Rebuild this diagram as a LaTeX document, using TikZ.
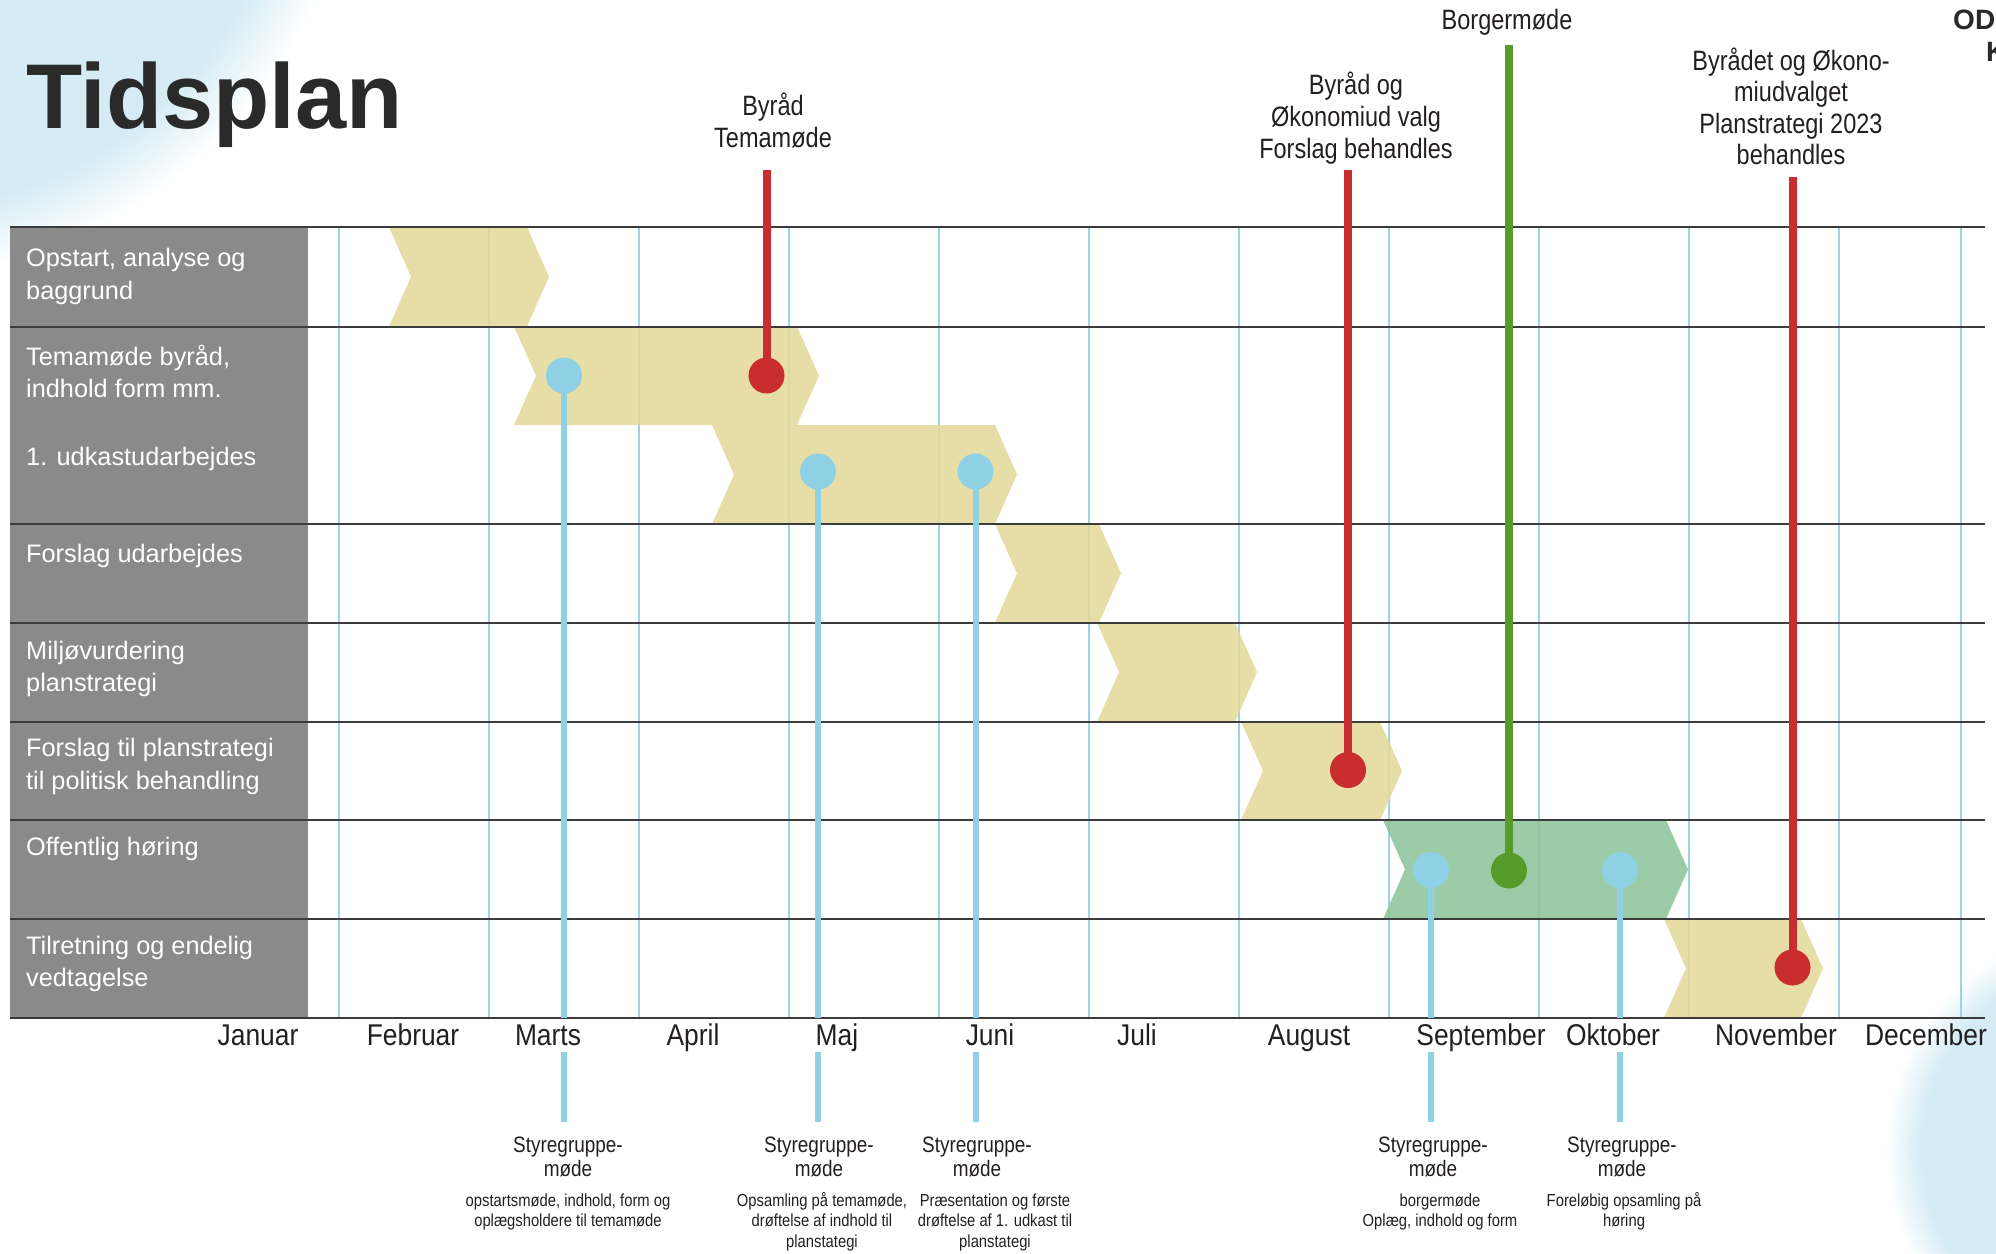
\documentclass[tikz,border=0pt]{standalone}
\usepackage{fontspec}
\setmainfont{Liberation Sans}
\newfontfamily\narrowA[FakeStretch=0.84]{Liberation Sans}
\newfontfamily\narrowB[FakeStretch=0.88]{Liberation Sans}
\newfontfamily\narrowC[FakeStretch=0.85]{Liberation Sans}
\definecolor{blobc}{HTML}{D6ECF5}
\definecolor{labgray}{HTML}{8A8A8A}
\definecolor{gridc}{HTML}{9DD3E4}
\definecolor{barY}{HTML}{E3D99A}
\definecolor{barG}{HTML}{8DC59B}
\definecolor{linec}{HTML}{3C3C3C}
\definecolor{dotB}{HTML}{8FD1E4}
\definecolor{dotR}{HTML}{C92D2F}
\definecolor{dotG}{HTML}{579B2A}
\definecolor{txt}{HTML}{231F20}
\definecolor{titlec}{HTML}{2A2A2A}
\pgfdeclareradialshading{blobTL}{\pgfpoint{0bp}{0bp}}{color(0bp)=(blobc); color(21.6bp)=(blobc); color(25bp)=(white); color(50bp)=(white)}
\pgfdeclareradialshading{blobBR}{\pgfpoint{0bp}{0bp}}{color(0bp)=(blobc); color(21bp)=(blobc); color(25bp)=(white); color(50bp)=(white)}
\newcommand\stk[2]{\begin{tabular}[t]{@{}#1@{}}#2\end{tabular}}
\newcommand\chevron[5]{%
  \fill[#5] (#1,#3) -- (#2,#3) -- ({#2+22},{(#3+#4)/2}) -- (#2,#4) -- (#1,#4) -- ({#1+22},{(#3+#4)/2}) -- cycle;}
\tikzset{
  rowlab/.style={anchor=base west, inner sep=0pt, text=white, font=\fontsize{25.3}{32.5}\selectfont},
  toplab/.style={anchor=base, inner sep=0pt, text=txt, font=\narrowA\fontsize{28}{32}\selectfont},
  monthlab/.style={anchor=base, inner sep=0pt, text=txt, font=\narrowB\fontsize{30}{36}\selectfont},
  sglab/.style={anchor=base, inner sep=0pt, text=txt, font=\narrowC\fontsize{22.3}{24.5}\selectfont},
  desclab/.style={anchor=base, inner sep=0pt, text=txt, font=\narrowC\fontsize{17.4}{20.5}\selectfont},
  gridline/.style={draw=gridc, line width=1.5pt},
  rowline/.style={draw=linec, line width=2pt},
  barYs/.style={fill=barY, fill opacity=0.88},
  barGs/.style={fill=barG, fill opacity=0.88},
  stemB/.style={draw=dotB, line width=6pt},
  stemR/.style={draw=dotR, line width=8pt},
  stemG/.style={draw=dotG, line width=8pt},
  dotBs/.style={circle, fill=dotB, minimum size=36pt, inner sep=0pt},
  dotRs/.style={circle, fill=dotR, minimum size=36pt, inner sep=0pt},
  dotGs/.style={circle, fill=dotG, minimum size=36pt, inner sep=0pt},
}
\begin{document}
\begin{tikzpicture}[x=1pt,y=-1pt]
\useasboundingbox (0,0) rectangle (1996,1253);
\clip (0,0) rectangle (1996,1253);
% background blobs
\shade[shading=blobTL] (-120,-200) circle (480);
\shade[shading=blobBR] (2110,1150) circle (225);
% label column
\fill[labgray] (10,227) rectangle (308,1017.7);
% vertical grid
\foreach \gx in {339,489,639,789,939,1089,1239,1389,1539,1689,1839,1961}
  \draw[gridline] (\gx,227) -- (\gx,1017.7);
% chevrons
\chevron{389}{527}{227}{326.5}{barYs}
\chevron{514}{797}{326.5}{425}{barYs}
\chevron{712}{995}{425}{524}{barYs}
\chevron{995}{1099}{524}{622.7}{barYs}
\chevron{1097}{1235}{622.7}{721.7}{barYs}
\chevron{1241}{1380}{721.7}{820}{barYs}
\chevron{1383}{1666}{820}{919}{barGs}
\chevron{1664}{1801}{919}{1017.7}{barYs}
% row lines
\foreach \ry in {227,326.5,524,622.7,721.7,820,919,1017.7}
  \draw[rowline] (10,\ry) -- (1985,\ry);
% coordinates
\coordinate (axis) at (0,1017.7);
\coordinate (lowA) at (0,1052);
\coordinate (lowB) at (0,1122);
\coordinate (b1) at (564,375.5);
\coordinate (b2) at (818,471.5);
\coordinate (b3) at (975.5,471.5);
\coordinate (b4) at (1431,870);
\coordinate (b5) at (1620,870);
\coordinate (r1) at (766.5,375.5);
\coordinate (r2) at (1348,770);
\coordinate (r3) at (1792.5,967.5);
\coordinate (g1) at (1509,870.5);
\coordinate (r1top) at (766.5,170);
\coordinate (r2top) at (1348,170);
\coordinate (r3top) at (1792.5,176.5);
\coordinate (g1top) at (1509,45);
% stems
\foreach \b in {b1,b2,b3,b4,b5}{
  \draw[stemB] (\b) -- (\b |- axis);
  \draw[stemB] (\b |- lowA) -- (\b |- lowB);
}
\draw[stemR] (r1top) -- (r1);
\draw[stemR] (r2top) -- (r2);
\draw[stemR] (r3top) -- (r3);
\draw[stemG] (g1top) -- (g1);
% dots
\node[dotBs] (db1) at (b1) {};
\node[dotBs] (db2) at (b2) {};
\node[dotBs] (db3) at (b3) {};
\node[dotBs] (db4) at (b4) {};
\node[dotBs] (db5) at (b5) {};
\node[dotRs] (dr1) at (r1) {};
\node[dotRs] (dr2) at (r2) {};
\node[dotRs] (dr3) at (r3) {};
\node[dotGs] (dg1) at (g1) {};
% title
\node[anchor=base west, inner sep=0pt, text=titlec, font=\bfseries\fontsize{92}{92}\selectfont] (title) at (26,128) {Tidsplan};
\node[anchor=base west, inner sep=0pt, text=titlec, font=\bfseries\fontsize{28}{30}\selectfont] (od) at (1953,29.5) {OD};
\node[anchor=base west, inner sep=0pt, text=titlec, font=\bfseries\fontsize{28}{30}\selectfont] (kk) at (1986,61) {K};
% row labels
\node[rowlab] (l1) at (26,266.7) {\stk{l}{Opstart, analyse og\\baggrund}};
\node[rowlab] (l2) at (26,365) {\stk{l}{Temamøde byråd,\\indhold form mm.}};
\node[rowlab] (l3) at (26,465) {1. udkastudarbejdes};
\node[rowlab] (l4) at (26,562.7) {Forslag udarbejdes};
\node[rowlab] (l5) at (26,659.3) {\stk{l}{Miljøvurdering\\planstrategi}};
\node[rowlab] (l6) at (26,756.7) {\stk{l}{Forslag til planstrategi\\til politisk behandling}};
\node[rowlab] (l7) at (26,855) {Offentlig høring};
\node[rowlab] (l8) at (26,954) {\stk{l}{Tilretning og endelig\\vedtagelse}};
% top labels
\node[toplab] (t1) at (773,115) {\stk{c}{Byråd\\Temamøde}};
\node[toplab] (t2) at (1356,94) {\stk{c}{Byråd og\\Økonomiud valg\\Forslag behandles}};
\node[toplab] (t3) at (1507,29.3) {Borgermøde};
\node[toplab, font=\narrowA\fontsize{28}{31.2}\selectfont] (t4) at (1791,70.7) {\stk{c}{Byrådet og Økono-\\miudvalget\\Planstrategi 2023\\behandles}};
% months
\node[monthlab] (m1) at (258,1045) {Januar};
\node[monthlab] (m2) at (413,1045) {Februar};
\node[monthlab] (m3) at (548,1045) {Marts};
\node[monthlab] (m4) at (693,1045) {April};
\node[monthlab] (m5) at (837,1045) {Maj};
\node[monthlab] (m6) at (990,1045) {Juni};
\node[monthlab] (m7) at (1137,1045) {Juli};
\node[monthlab] (m8) at (1309,1045) {August};
\node[monthlab] (m9) at (1481,1045) {September};
\node[monthlab] (m10) at (1613,1045) {Oktober};
\node[monthlab] (m11) at (1776,1045) {November};
\node[monthlab] (m12) at (1926,1045) {December};
% Styregruppe labels
\node[sglab] (s1) at (568,1152) {\stk{c}{Styregruppe-\\møde}};
\node[sglab] (s2) at (819,1152) {\stk{c}{Styregruppe-\\møde}};
\node[sglab] (s3) at (977,1152) {\stk{c}{Styregruppe-\\møde}};
\node[sglab] (s4) at (1433,1152) {\stk{c}{Styregruppe-\\møde}};
\node[sglab] (s5) at (1622,1152) {\stk{c}{Styregruppe-\\møde}};
% descriptions
\node[desclab] (d1) at (568,1206) {\stk{c}{opstartsmøde, indhold, form og\\oplægsholdere til temamøde}};
\node[desclab] (d2) at (822,1206) {\stk{c}{Opsamling på temamøde,\\drøftelse af indhold til\\planstategi}};
\node[desclab] (d3) at (995,1206) {\stk{c}{Præsentation og første\\drøftelse af 1. udkast til\\planstategi}};
\node[desclab] (d4) at (1440,1206) {\stk{c}{borgermøde\\Oplæg, indhold og form}};
\node[desclab] (d5) at (1624,1206) {\stk{c}{Foreløbig opsamling på\\høring}};
\end{tikzpicture}
\end{document}
